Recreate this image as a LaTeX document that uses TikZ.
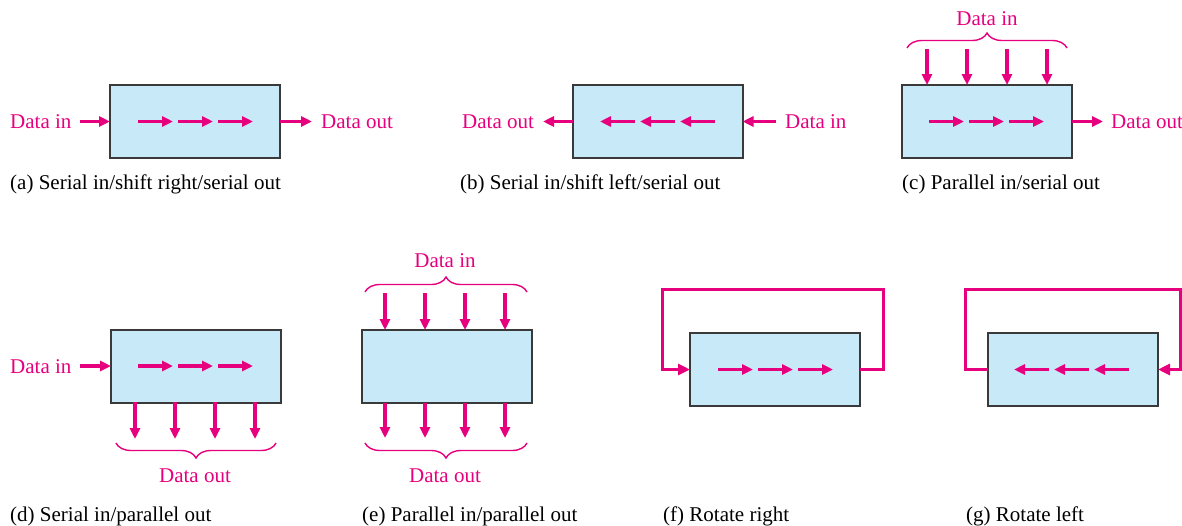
\documentclass[tikz,border=0pt]{standalone}
\usepackage{fontspec}
\setmainfont{Liberation Serif}
\usetikzlibrary{arrows.meta,decorations.pathreplacing}
\definecolor{mag}{HTML}{E6007E}
\definecolor{boxfill}{HTML}{C8E9F8}
\definecolor{boxline}{HTML}{3A3A3A}
\begin{document}
\begin{tikzpicture}[x=1pt,y=-1pt,
  font=\fontsize{21}{25}\selectfont,
  reg/.style={draw=boxline, fill=boxfill, line width=2pt, minimum width=170pt, minimum height=73pt, inner sep=0pt, outer sep=0pt},
  sig/.style={draw=mag, line width=3.5pt, -{Triangle[length=11pt,width=10pt]}},
  loopline/.style={draw=mag, line width=3pt, -{Triangle[length=12pt,width=11pt]}},
  lbl/.style={text=mag, inner sep=0pt, anchor=base west},
  clbl/.style={text=mag, inner sep=0pt, anchor=base},
  captxt/.style={inner sep=0pt, anchor=base west},
  brc/.style={draw=mag, line width=1.4pt, decorate, decoration={brace, amplitude=15pt}}
]
\useasboundingbox (0,0) rectangle (1182,525);

% (a)
\node[reg] (abox) at (195,121.5) {};
\node[lbl] (ain) at (10,128) {Data in};
\node[lbl] (aout) at (321,128) {Data out};
\coordinate (ainS) at (80,121.5);
\coordinate (aoutE) at (312,121.5);
\draw[sig] (ainS) -- (abox.west);
\draw[sig] (abox.east) -- (aoutE);
\foreach \x in {138,178,218} \draw[sig] (\x,121.5) -- ++(35,0);
\node[captxt] (acap) at (10,189) {(a) Serial in/shift right/serial out};

% (b)
\node[reg] (bbox) at (657.5,121.5) {};
\node[lbl] (bout) at (462,128) {Data out};
\node[lbl] (bin) at (785,128) {Data in};
\coordinate (boutE) at (543,121.5);
\coordinate (binS) at (776,121.5);
\draw[sig] (bbox.west) -- (boutE);
\draw[sig] (binS) -- (bbox.east);
\foreach \x in {715,675,635} \draw[sig] (\x,121.5) -- ++(-35,0);
\node[captxt] (bcap) at (460,189) {(b) Serial in/shift left/serial out};

% (c)
\node[reg] (cbox) at (987,121.5) {};
\foreach \x in {927,967,1007,1047} \draw[sig] (\x,49) -- (\x,85);
\draw[brc] (907,48) -- (1067,48);
\node[clbl] (cin) at (987,25) {Data in};
\foreach \x in {929,969,1009} \draw[sig] (\x,121.5) -- ++(35,0);
\coordinate (coutE) at (1103,121.5);
\draw[sig] (cbox.east) -- (coutE);
\node[lbl] (cout) at (1111,128) {Data out};
\node[captxt] (ccap) at (902,189) {(c) Parallel in/serial out};

% (d)
\node[reg] (dbox) at (196,366) {};
\node[lbl] (din) at (10,373) {Data in};
\coordinate (dinS) at (80,366);
\draw[sig] (dinS) -- (dbox.west);
\foreach \x in {138,178,218} \draw[sig] (\x,366) -- ++(35,0);
\foreach \x in {135,175,215,255} \draw[sig] (\x,402) -- (\x,439);
\draw[brc] (276,443) -- (116,443);
\node[clbl] (dout) at (195,482) {Data out};
\node[captxt] (dcap) at (10,521) {(d) Serial in/parallel out};

% (e)
\node[reg] (ebox) at (446.5,366.5) {};
\foreach \x in {385,425,465,505} \draw[sig] (\x,293) -- (\x,330);
\draw[brc] (365,292) -- (527,292);
\node[clbl] (ein) at (445,267) {Data in};
\foreach \x in {385,425,465,505} \draw[sig] (\x,403) -- (\x,438);
\draw[brc] (527,443) -- (365,443);
\node[clbl] (eout) at (445,482) {Data out};
\node[captxt] (ecap) at (362,521) {(e) Parallel in/parallel out};

% (f)
\node[reg] (fbox) at (775,369.5) {};
\foreach \x in {718,758,798} \draw[sig] (\x,369.5) -- ++(35,0);
\draw[loopline] (fbox.east) -- (883,369.5) -- (883,289) -- (662,289) -- (662,369.5) -- (fbox.west);
\node[captxt] (fcap) at (663,521) {(f) Rotate right};

% (g)
\node[reg] (gbox) at (1073,369.5) {};
\foreach \x in {1129,1089,1049} \draw[sig] (\x,369.5) -- ++(-35,0);
\draw[loopline] (gbox.west) -- (965,369.5) -- (965,289) -- (1180.5,289) -- (1180.5,369.5) -- (gbox.east);
\node[captxt] (gcap) at (966,521) {(g) Rotate left};
\end{tikzpicture}
\end{document}
